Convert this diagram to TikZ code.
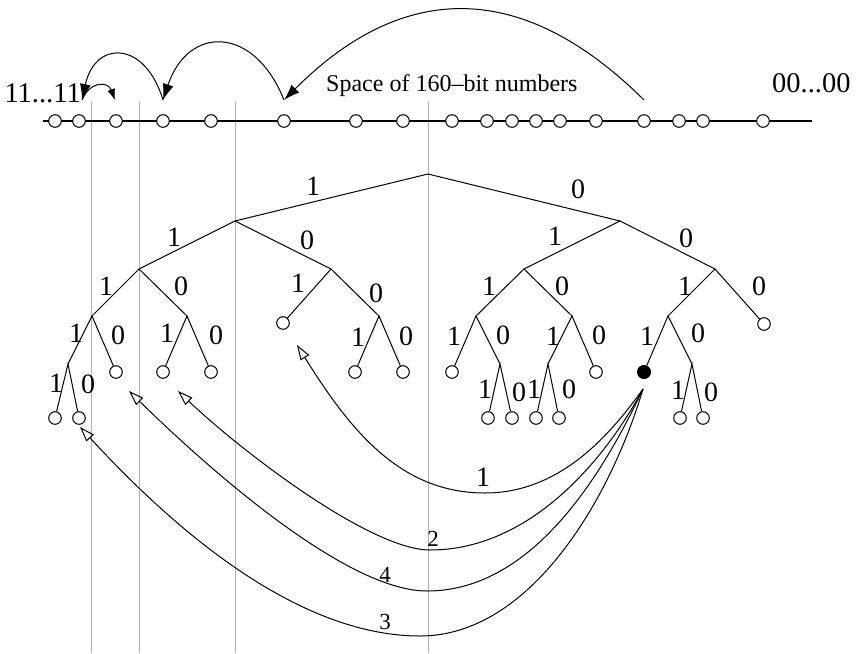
\documentclass[tikz,border=0pt]{standalone}
\usepackage{fontspec}
\setmainfont{Liberation Serif}
\usetikzlibrary{arrows.meta}
\begin{document}
\begin{tikzpicture}[x=1pt,y=-1pt,
  leaf/.style={circle,draw,fill=white,line width=1pt,minimum size=12.6pt,inner sep=0pt},
  full/.style={circle,draw,fill=black,line width=1pt,minimum size=13pt,inner sep=0pt},
  edge/.style={line width=1pt},
  lbl/.style={inner sep=0pt,font=\fontsize{28}{32}\selectfont},
  slbl/.style={inner sep=0pt,font=\fontsize{23}{26}\selectfont},
  guide/.style={draw=black!30,line width=0.9pt},
  hop/.style={line width=1pt,-{Latex[length=16pt,width=11pt]}},
  smallhop/.style={line width=1pt,-{Latex[length=11pt,width=8pt]}},
  ptr/.style={line width=1pt,-{Triangle[open,length=15pt,width=10pt]}}]
\useasboundingbox (0,0) rectangle (856,653);
% guide lines
\foreach \gx/\gn in {91/g1,139/g2,235/g3,428/g4}{
  \coordinate (\gn top) at (\gx,101);
  \coordinate (\gn bot) at (\gx,653);
  \draw[guide] (\gn top) -- (\gn bot);
}
% number line
\coordinate (L0) at (43,121);
\coordinate (L1) at (812,121);
\draw[line width=2pt] (L0) -- (L1);
\foreach \nx [count=\i] in {55,79,116,163,211,284,356,403,452,487,512,536,560,596,644,679,703,763}{
  \node[leaf] (n\i) at (\nx,121) {};
}
\node[inner sep=0pt,anchor=base east,font=\fontsize{28.5}{32}\selectfont] (lft) at (81,102) {11...11};
\node[inner sep=0pt,anchor=base west,font=\fontsize{28.5}{32}\selectfont] (rgt) at (772,92) {00...00};
\node[inner sep=0pt,anchor=base west,font=\fontsize{24}{28}\selectfont] (space) at (326,91) {Space of 160–bit numbers};
% hops on the number line
\coordinate (u15) at (644,100);
\coordinate (u6) at (284,100);
\coordinate (u4) at (163,100);
\coordinate (u2) at (82,100);
\coordinate (u3) at (115,100);
\draw[hop] (u15) .. controls (523,-20) and (404,-20) .. (u6);
\draw[hop] (u6) .. controls (254,25) and (188,25) .. (u4);
\draw[hop] (u4) .. controls (145,40) and (95,40) .. (u2);
\draw[smallhop] (u2) .. controls (90,81) and (108,81) .. (u3);
% tree inner points
\coordinate (R) at (428,174);
\coordinate (A) at (235,221);
\coordinate (B) at (620,221);
\coordinate (AA) at (139,269);
\coordinate (AB) at (331,269);
\coordinate (BA) at (524,269);
\coordinate (BB) at (715,269);
\coordinate (AAA) at (92,316);
\coordinate (AAB) at (187,316);
\coordinate (ABB) at (379,316);
\coordinate (BAA) at (476,316);
\coordinate (BAB) at (572,316);
\coordinate (BBA) at (668,316);
\coordinate (AAAA) at (68,364);
\coordinate (BAAB) at (500,364);
\coordinate (BABA) at (548,364);
\coordinate (BBAB) at (692,364);
% leaves
\node[leaf] (ABA) at (283,323) {};
\node[leaf] (BBB) at (764,324) {};
\node[leaf] (AAAB) at (116,372) {};
\node[leaf] (AABA) at (163,372) {};
\node[leaf] (AABB) at (211,372) {};
\node[leaf] (ABBA) at (355,372) {};
\node[leaf] (ABBB) at (403,372) {};
\node[leaf] (BAAA) at (452,372) {};
\node[leaf] (BABB) at (596,372) {};
\node[full] (BBAA) at (644,372) {};
\node[leaf] (AAAAA) at (55,418) {};
\node[leaf] (AAAAB) at (79,418) {};
\node[leaf] (BAABA) at (488,418) {};
\node[leaf] (BAABB) at (512,418) {};
\node[leaf] (BABAA) at (536,418) {};
\node[leaf] (BABAB) at (559,418) {};
\node[leaf] (BBABA) at (680,418) {};
\node[leaf] (BBABB) at (703,418) {};
% edges
\draw[edge] (A) -- (R) -- (B);
\draw[edge] (AA) -- (A) -- (AB);
\draw[edge] (BA) -- (B) -- (BB);
\draw[edge] (AAA) -- (AA) -- (AAB);
\draw[edge] (ABA) -- (AB) -- (ABB);
\draw[edge] (BAA) -- (BA) -- (BAB);
\draw[edge] (BBA) -- (BB) -- (BBB);
\draw[edge] (AAAA) -- (AAA) -- (AAAB);
\draw[edge] (AABA) -- (AAB) -- (AABB);
\draw[edge] (ABBA) -- (ABB) -- (ABBB);
\draw[edge] (BAAA) -- (BAA) -- (BAAB);
\draw[edge] (BABA) -- (BAB) -- (BABB);
\draw[edge] (BBAA) -- (BBA) -- (BBAB);
\draw[edge] (AAAAA) -- (AAAA) -- (AAAAB);
\draw[edge] (BAABA) -- (BAAB) -- (BAABB);
\draw[edge] (BABAA) -- (BABA) -- (BABAB);
\draw[edge] (BBABA) -- (BBAB) -- (BBABB);
% edge labels
\foreach \t/\lx/\ly [count=\k] in {
  1/313/186, 0/578/189,
  1/174/237, 0/307/240, 1/555/236, 0/686/238,
  1/106/286, 0/181/286, 1/298/283, 0/376/293,
  1/489/286, 0/562/286, 1/685/286, 0/759/286,
  1/76/333, 0/118/335, 1/167/333, 0/216/335,
  1/358/337, 0/406/336, 1/454/336, 0/503/335,
  1/553/336, 0/599/335, 1/647/336, 0/698/333,
  1/56/383, 0/88/384, 1/485/389, 0/519/392,
  1/534/389, 0/569/389, 1/678/390, 0/711/392}{
  \node[lbl] (e\k) at (\lx,\ly) {\t};
}
% lookup pointers
\coordinate (src) at (643,389);
\coordinate (t1) at (297,345);
\coordinate (t2) at (178,391);
\coordinate (t4) at (129,391);
\coordinate (t3) at (80,427);
\draw[ptr] (src) .. controls (610,435) and (560,493) .. (485,493)
  .. controls (400,493) and (350,430) .. (t1);
\draw[ptr] (src) .. controls (605,460) and (530,550) .. (430,550)
  .. controls (370,550) and (240,450) .. (t2);
\draw[ptr] (src) .. controls (600,480) and (530,591) .. (427,591)
  .. controls (350,591) and (220,480) .. (t4);
\draw[ptr] (src) .. controls (610,500) and (530,636) .. (420,636)
  .. controls (340,636) and (230,590) .. (t3);
\node[lbl] (k1) at (483,477) {1};
\node[slbl] (k2) at (433,539) {2};
\node[slbl] (k4) at (385,575) {4};
\node[slbl] (k3) at (385,622) {3};
\end{tikzpicture}
\end{document}
